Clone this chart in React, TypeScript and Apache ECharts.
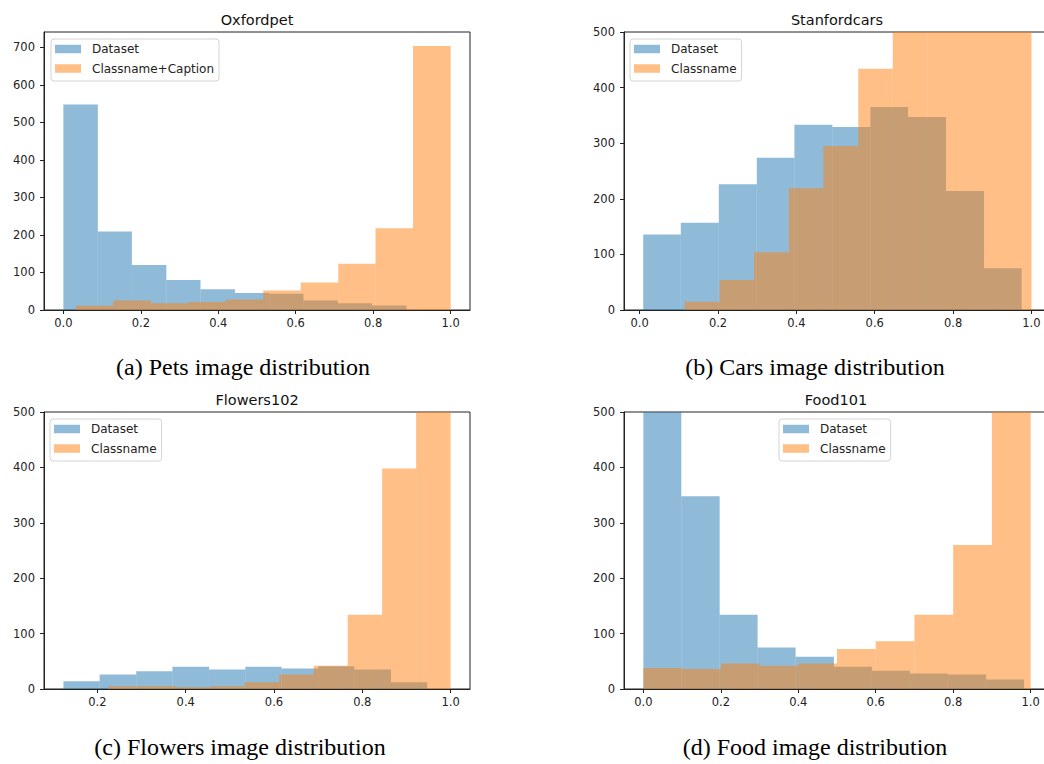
import React, { useEffect, useRef } from "react";
import * as echarts from "echarts";

// ---------------- DATA ----------------
const petsDatasetEdges = [0, 0.089, 0.177, 0.266, 0.354, 0.443, 0.532, 0.62, 0.709, 0.797, 0.886];
const petsDatasetCounts = [548, 209, 120, 80, 55, 45, 43, 25, 18, 12];
const petsCaptionEdges = [0.032, 0.129, 0.226, 0.323, 0.419, 0.516, 0.613, 0.71, 0.806, 0.903, 1.0];
const petsCaptionCounts = [11, 25, 18, 21, 28, 52, 73, 123, 218, 704];

const carsDatasetEdges = [0.009, 0.105, 0.202, 0.299, 0.395, 0.492, 0.589, 0.685, 0.782, 0.879, 0.975];
const carsDatasetCounts = [136, 157, 226, 274, 333, 329, 365, 347, 214, 75];
const carsClassnameEdges = [0.115, 0.204, 0.292, 0.381, 0.469, 0.558, 0.646, 0.735, 0.823, 0.912, 1.0];
const carsClassnameCounts = [15, 54, 104, 219, 295, 434, 620, 710, 780, 860];

const flowersDatasetEdges = [0.123, 0.205, 0.288, 0.37, 0.453, 0.535, 0.617, 0.7, 0.782, 0.865, 0.947];
const flowersDatasetCounts = [14, 26, 32, 40, 35, 40, 37, 41, 35, 12];
const flowersClassnameEdges = [0.224, 0.302, 0.379, 0.457, 0.534, 0.612, 0.69, 0.767, 0.845, 0.922, 1.0];
const flowersClassnameCounts = [5, 5, 3, 5, 12, 26, 42, 134, 398, 760];

const foodDatasetEdges = [0, 0.098, 0.197, 0.295, 0.393, 0.492, 0.59, 0.688, 0.786, 0.885, 0.983];
const foodDatasetCounts = [880, 348, 134, 75, 58, 40, 33, 28, 26, 17];
const foodClassnameEdges = [0, 0.1, 0.2, 0.3, 0.4, 0.5, 0.6, 0.7, 0.8, 0.9, 1.0];
const foodClassnameCounts = [38, 36, 46, 42, 46, 72, 86, 134, 260, 900];

const titles = ["Oxfordpet", "Stanfordcars", "Flowers102", "Food101"];
const captions = [
  "(a) Pets image distribution",
  "(b) Cars image distribution",
  "(c) Flowers image distribution",
  "(d) Food image distribution",
];
const secondNames = ["Classname+Caption", "Classname", "Classname", "Classname"];

const xTicksFull = [0, 0.2, 0.4, 0.6, 0.8, 1.0];
const xTicksFlowers = [0.2, 0.4, 0.6, 0.8, 1.0];
const yTicksPets = [0, 100, 200, 300, 400, 500, 600, 700];
const yTicks500 = [0, 100, 200, 300, 400, 500];

const xRanges = [
  [-0.05, 1.05],
  [-0.04, 1.05],
  [0.079, 1.044],
  [-0.05, 1.05],
];
const yMaxes = [741, 500, 500, 500];

// ---------------- LAYOUT ----------------
const BLUE = "rgba(31,119,180,0.5)";
const ORANGE = "rgba(255,127,14,0.5)";
const TXT = "#222";
const SANS = "DejaVu Sans";

const grids = [
  { left: 44, top: 32, width: 426, height: 278 },
  { left: 624, top: 32, width: 427, height: 278 },
  { left: 44, top: 412, width: 426, height: 277 },
  { left: 624, top: 412, width: 426, height: 277 },
];
const legendPos = [
  { left: 51, top: 39 },
  { left: 630, top: 39 },
  { left: 50, top: 419 },
  { left: 779, top: 419 },
];
const titlePos = [
  [257, 20],
  [837, 20],
  [257, 400],
  [836, 400],
];
const captionPos = [
  [243, 367],
  [815, 367],
  [240, 747],
  [815, 747],
];

function toBins(edges: number[], counts: number[]) {
  return counts.map((c, i) => [edges[i], edges[i + 1], c]);
}

function makeRender(color: string) {
  return (params: any, api: any) => {
    const x0 = api.value(0);
    const x1 = api.value(1);
    const h = api.value(2);
    const a = api.coord([x0, h]);
    const b = api.coord([x1, 0]);
    const cs = params.coordSys;
    const r = echarts.graphic.clipRectByRect(
      { x: a[0], y: a[1], width: b[0] - a[0], height: b[1] - a[1] },
      { x: cs.x, y: cs.y, width: cs.width, height: cs.height }
    );
    if (!r) return null;
    return { type: "rect", shape: r, style: { fill: color } };
  };
}

export default function App() {
  const ref = useRef<HTMLDivElement>(null);

  useEffect(() => {
    if (!ref.current) return;
    const chart = echarts.init(ref.current, null, { renderer: "svg" });

    const datasets = [
      [toBins(petsDatasetEdges, petsDatasetCounts), toBins(petsCaptionEdges, petsCaptionCounts)],
      [toBins(carsDatasetEdges, carsDatasetCounts), toBins(carsClassnameEdges, carsClassnameCounts)],
      [toBins(flowersDatasetEdges, flowersDatasetCounts), toBins(flowersClassnameEdges, flowersClassnameCounts)],
      [toBins(foodDatasetEdges, foodDatasetCounts), toBins(foodClassnameEdges, foodClassnameCounts)],
    ];

    const xAxis: any[] = [];
    const yAxis: any[] = [];
    const series: any[] = [];
    const legend: any[] = [];
    const graphic: any[] = [];

    for (let i = 0; i < 4; i++) {
      const xt = i === 2 ? xTicksFlowers : xTicksFull;
      const yt = i === 0 ? yTicksPets : yTicks500;
      xAxis.push({
        type: "value",
        gridIndex: i,
        min: xRanges[i][0],
        max: xRanges[i][1],
        splitLine: { show: false },
        axisLine: { show: true, onZero: false, lineStyle: { color: TXT, width: 1 } },
        axisTick: { show: true, length: 4, customValues: xt, lineStyle: { color: TXT } },
        axisLabel: {
          customValues: xt,
          formatter: (v: number) => v.toFixed(1),
          color: TXT,
          fontSize: 11.5,
          fontFamily: SANS,
          margin: 7,
        },
      });
      yAxis.push({
        type: "value",
        gridIndex: i,
        min: 0,
        max: yMaxes[i],
        splitLine: { show: false },
        axisLine: { show: true, onZero: false, lineStyle: { color: TXT, width: 1 } },
        axisTick: { show: true, length: 4, customValues: yt, lineStyle: { color: TXT } },
        axisLabel: {
          customValues: yt,
          formatter: (v: number) => String(Math.round(v)),
          color: TXT,
          fontSize: 11.5,
          fontFamily: SANS,
          margin: 9,
        },
      });
      series.push({
        type: "custom",
        name: "Dataset",
        xAxisIndex: i,
        yAxisIndex: i,
        coordinateSystem: "cartesian2d",
        itemStyle: { color: BLUE },
        encode: { x: [0, 1], y: 2 },
        renderItem: makeRender(BLUE),
        data: datasets[i][0],
        z: 2,
      });
      series.push({
        type: "custom",
        name: secondNames[i],
        xAxisIndex: i,
        yAxisIndex: i,
        coordinateSystem: "cartesian2d",
        itemStyle: { color: ORANGE },
        encode: { x: [0, 1], y: 2 },
        renderItem: makeRender(ORANGE),
        data: datasets[i][1],
        z: 3,
      });
      legend.push({
        orient: "vertical",
        left: legendPos[i].left,
        top: legendPos[i].top,
        selectedMode: false,
        icon: "rect",
        itemWidth: 26,
        itemHeight: 8.5,
        itemGap: 5.5,
        padding: [3, 5, 5.5, 4],
        borderColor: "#d4d4d4",
        borderWidth: 1,
        borderRadius: 3,
        backgroundColor: "rgba(255,255,255,0.8)",
        textStyle: {
          fontSize: 12,
          fontFamily: SANS,
          color: TXT,
          lineHeight: 14,
          padding: [0, 0, 0, 6],
        },
        data: [
          { name: "Dataset", itemStyle: { color: BLUE, borderWidth: 0 } },
          { name: secondNames[i], itemStyle: { color: ORANGE, borderWidth: 0 } },
        ],
        z: 10,
      });
      graphic.push({
        type: "text",
        x: titlePos[i][0],
        y: titlePos[i][1],
        style: {
          text: titles[i],
          fontSize: 14.5,
          fontFamily: SANS,
          fill: "#111",
          align: "center",
          verticalAlign: "middle",
        },
      });
      graphic.push({
        type: "text",
        x: captionPos[i][0],
        y: captionPos[i][1],
        style: {
          text: captions[i],
          fontSize: 24,
          fontFamily: "Liberation Serif",
          fill: "#000",
          align: "center",
          verticalAlign: "middle",
        },
      });
    }

    chart.setOption({
      animation: false,
      backgroundColor: "#fff",
      grid: grids.map((g) => ({
        ...g,
        show: true,
        borderColor: TXT,
        borderWidth: 1,
        backgroundColor: "transparent",
        containLabel: false,
      })),
      xAxis,
      yAxis,
      series,
      legend,
      graphic,
    });

    return () => chart.dispose();
  }, []);

  return (
    <div
      style={{
        position: "absolute",
        left: 0,
        top: 0,
        width: 1044,
        height: 764,
        overflow: "hidden",
        background: "#fff",
      }}
    >
      <div ref={ref} style={{ width: 1070, height: 764 }} />
    </div>
  );
}
